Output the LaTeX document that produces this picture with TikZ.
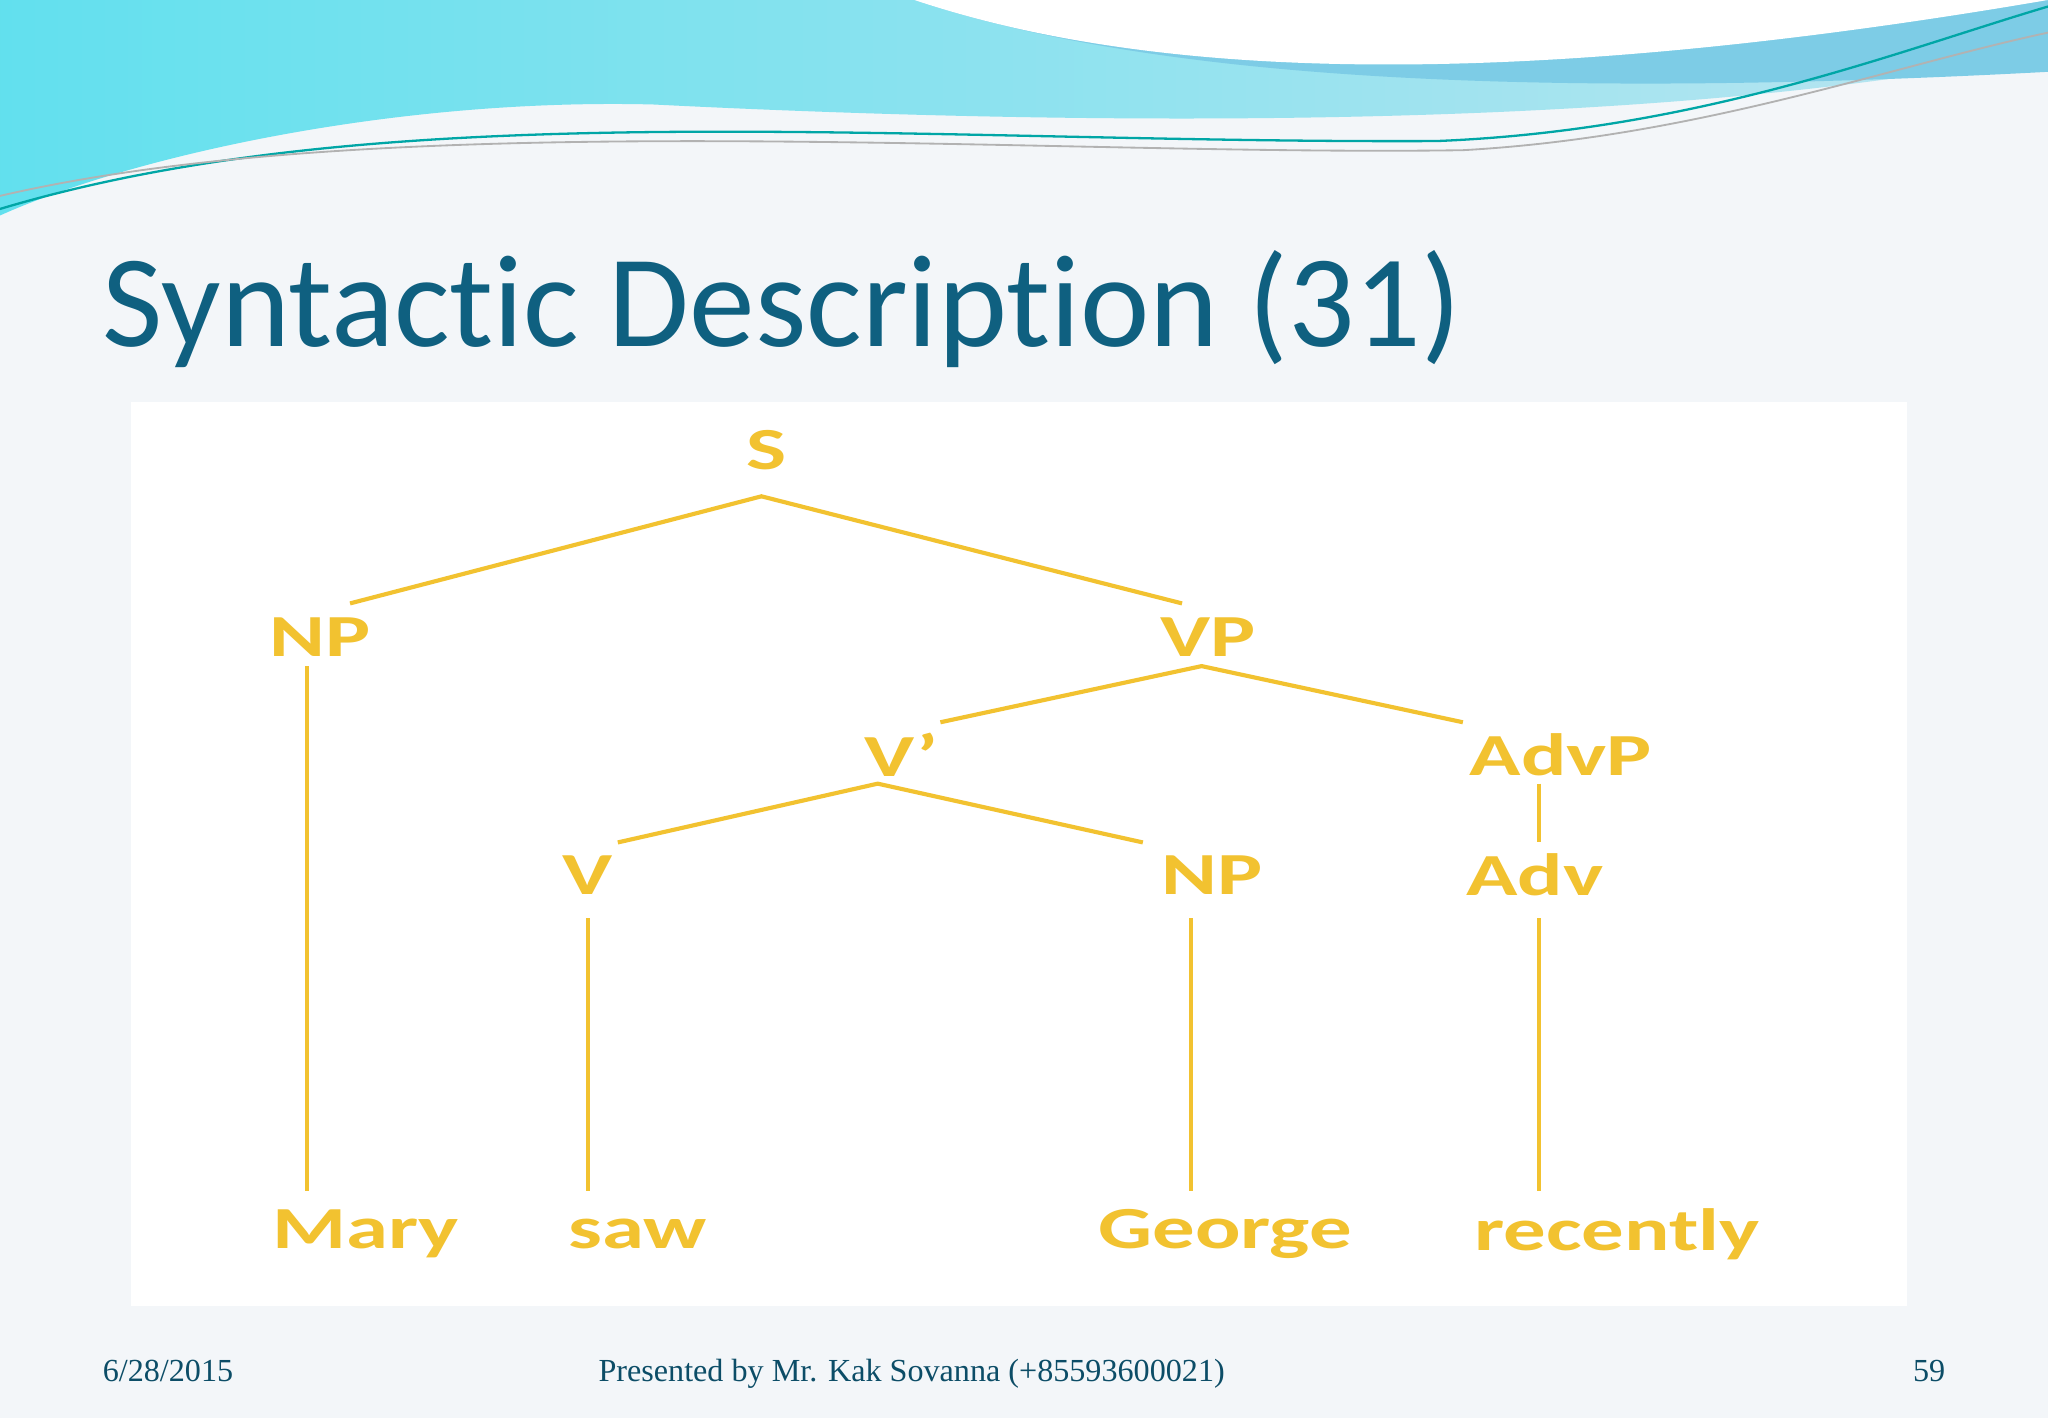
\documentclass[tikz,border=0pt]{standalone}
\usepackage{fontspec}
\setmainfont{Carlito}[Ligatures={NoCommon}]
\newfontfamily\footfont{Liberation Serif}
\definecolor{tealt}{HTML}{0F6080}
\definecolor{treey}{HTML}{F2C230}
\definecolor{bgc}{HTML}{F3F6F9}
\definecolor{wave1}{HTML}{8CD3E6}
\definecolor{wave2}{HTML}{5DBFE0}
\begin{document}
\begin{tikzpicture}[x=0.01cm,y=-0.01cm,
  lab/.style={text=treey,font=\fontsize{13}{13}\selectfont\bfseries,inner sep=0pt,anchor=center,transform shape,xscale=1.42},
  br/.style={draw=treey,line width=0.9pt}]
\fill[bgc] (0,0) rectangle (1568,1086);
\useasboundingbox (0,0) rectangle (1568,1086);
% top waves
\shade[left color=wave1!70!cyan, right color=wave1!60] (0,0) -- (1568,0) -- (1568,40) .. controls (1300,95) and (900,100) .. (500,80) .. controls (300,75) and (100,120) .. (0,165) -- cycle;
\fill[wave2!80] (700,0) .. controls (850,50) and (1100,80) .. (1568,55) -- (1568,0) -- cycle;
\fill[white] (700,0) .. controls (850,50) and (1100,80) .. (1568,0) -- cycle;
\draw[teal!70!cyan,line width=0.5pt] (0,160) .. controls (300,70) and (700,110) .. (1100,108) .. controls (1300,100) and (1450,40) .. (1568,5);
\draw[gray!60,line width=0.4pt] (0,150) .. controls (300,80) and (800,120) .. (1120,115) .. controls (1300,105) and (1450,50) .. (1568,25);
% panel
\fill[white] (100,308) rectangle (1460,1000);
% title
\node[anchor=base west,inner sep=0pt,text=tealt,font=\fontsize{28.6}{29}\selectfont] (title) at (78,265) {Syntactic Description (31)};
% tree labels
\node[lab] (S) at (587,345) {S};
\node[lab] (NP) at (245,488) {NP};
\node[lab] (VP) at (925,488) {VP};
\node[lab] (Vb) at (690,578) {V’};
\node[lab] (AdvP) at (1195,578) {AdvP};
\node[lab] (V) at (450,670) {V};
\node[lab] (NPb) at (928,670) {NP};
\node[lab] (Adv) at (1175,670) {Adv};
\node[lab] (Mary) at (280,945) {Mary};
\node[lab] (saw) at (488,945) {saw};
\node[lab] (George) at (938,945) {George};
\node[lab] (recently) at (1238,945) {recently};
% branch points
\coordinate (s0) at (583,380); \coordinate (s1) at (268,462); \coordinate (s2) at (905,462);
\coordinate (np0) at (235,510); \coordinate (np1) at (235,912);
\coordinate (vp0) at (920,510); \coordinate (vp1) at (720,553); \coordinate (vp2) at (1120,553);
\coordinate (vb0) at (672,600); \coordinate (vb1) at (473,645); \coordinate (vb2) at (875,645);
\coordinate (ap0) at (1178,600); \coordinate (ap1) at (1178,645);
\coordinate (v0) at (450,703); \coordinate (v1) at (450,912);
\coordinate (n0) at (912,703); \coordinate (n1) at (912,912);
\coordinate (a0) at (1178,703); \coordinate (a1) at (1178,912);
\draw[br] (s1) -- (s0) -- (s2);
\draw[br] (np0) -- (np1);
\draw[br] (vp1) -- (vp0) -- (vp2);
\draw[br] (vb1) -- (vb0) -- (vb2);
\draw[br] (ap0) -- (ap1);
\draw[br] (v0) -- (v1);
\draw[br] (n0) -- (n1);
\draw[br] (a0) -- (a1);
% footer
\node[anchor=base west,inner sep=0pt,text=tealt!80!black,font=\footfont\fontsize{7}{7}\selectfont] (date) at (78,1058) {6/28/2015};
\node[anchor=base,inner sep=0pt,text=tealt!80!black,font=\footfont\fontsize{7}{7}\selectfont] (pres) at (698,1058) {Presented by Mr. Kak Sovanna (+85593600021)};
\node[anchor=base east,inner sep=0pt,text=tealt!80!black,font=\footfont\fontsize{7}{7}\selectfont] (pg) at (1490,1058) {59};
\end{tikzpicture}
\end{document}
